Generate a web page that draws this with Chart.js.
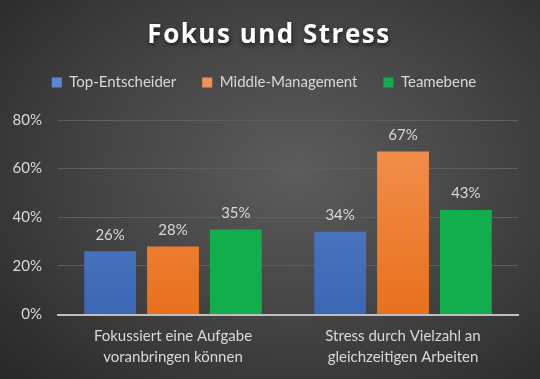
<!DOCTYPE html>
<html>
<head>
<meta charset="utf-8">
<script src="https://cdn.jsdelivr.net/npm/chart.js@4"></script>
<style>
  html, body { margin: 0; padding: 0; }
  body {
    width: 540px; height: 379px; overflow: hidden;
    background: radial-gradient(ellipse 75% 80% at 55% 45%, #5c5c5c 0%, #414141 55%, #282828 100%);
  }
  #wrap { width: 540px; height: 379px; }
</style>
</head>
<body>
<div id="wrap"><canvas id="fokusChart"></canvas></div>
<script>
const categories = [
    ['Fokussiert eine Aufgabe', 'voranbringen können'],
    ['Stress durch Vielzahl an', 'gleichzeitigen Arbeiten'],
];
const topEntscheider = [0.26, 0.34];
const middleManagement = [0.28, 0.67];
const teamebene = [0.35, 0.43];
const yTicks = [0, 0.2, 0.4, 0.6, 0.8];

const textColor = '#d9d9d9';
const font = 'Lato, "Open Sans", sans-serif';

// vertical gradient across the bar, lighter at the top
function barGradient(top, bottom) {
    return function (context) {
        const area = context.chart.chartArea;
        if (!area) return bottom;
        const g = context.chart.ctx.createLinearGradient(0, area.top, 0, area.bottom);
        g.addColorStop(0, top);
        g.addColorStop(1, bottom);
        return g;
    };
}

const valueLabels = {
    id: 'valueLabels',
    afterDatasetsDraw(chart) {
        const ctx = chart.ctx;
        ctx.save();
        ctx.fillStyle = textColor;
        ctx.font = '15px ' + font;
        ctx.textAlign = 'center';
        ctx.textBaseline = 'bottom';
        chart.data.datasets.forEach((ds, i) => {
            chart.getDatasetMeta(i).data.forEach((bar, j) => {
                ctx.fillText(Math.round(ds.data[j] * 100) + '%', bar.x, bar.y - 9);
            });
        });
        ctx.restore();
    },
};

// more room between legend and plot, spaced-out title with a shadow,
// title and legend centred on the whole page rather than the padded box
const layoutTweaks = {
    id: 'layoutTweaks',
    beforeLayout(chart) {
        const lg = chart.legend;
        if (lg && !lg._patched) {
            const fit = lg.fit;
            const draw = lg.draw;
            lg.fit = function () { fit.call(this); this.height += 20; };
            lg.draw = function () {
                this.ctx.save();
                this.ctx.translate(5, 0);
                draw.call(this);
                this.ctx.restore();
            };
            lg._patched = true;
        }
        const tb = chart.titleBlock;
        if (tb && !tb._patched) {
            const draw = tb.draw;
            tb.draw = function () {
                const c = this.ctx;
                c.save();
                c.translate(10, 0);
                c.letterSpacing = '1.5px';
                c.shadowColor = 'rgba(0,0,0,0.6)';
                c.shadowBlur = 4;
                c.shadowOffsetX = 1;
                c.shadowOffsetY = 2;
                draw.call(this);
                c.restore();
            };
            tb._patched = true;
        }
    },
};

const ctx = document.getElementById('fokusChart').getContext('2d');
const myChart = new Chart(ctx, {
    type: 'bar',
    data: {
        labels: categories,
        datasets: [
            {
                label: 'Top-Entscheider',
                data: topEntscheider,
                backgroundColor: barGradient('#5b86d0', '#3a66b3'),
            },
            {
                label: 'Middle-Management',
                data: middleManagement,
                backgroundColor: barGradient('#f39353', '#e8701c'),
            },
            {
                label: 'Teamebene',
                data: teamebene,
                backgroundColor: '#12ad4c',
            },
        ],
    },
    options: {
        responsive: true,
        maintainAspectRatio: false,
        animation: false,
        categoryPercentage: 0.82,
        barPercentage: 0.825,
        layout: { padding: { left: 0, right: 22, top: 0, bottom: 0 } },
        plugins: {
            title: {
                display: true,
                text: 'Fokus und Stress',
                color: '#ffffff',
                font: { family: '"Open Sans", Lato, sans-serif', size: 26, weight: 'bold', lineHeight: 1.0 },
                padding: { top: 23, bottom: 0 },
            },
            legend: {
                labels: {
                    color: textColor,
                    font: { family: font, size: 15 },
                    boxWidth: 10,
                    boxHeight: 10,
                    padding: 26,
                },
            },
            tooltip: { enabled: false },
        },
        scales: {
            x: {
                grid: { display: false, drawTicks: false },
                border: { color: '#bfbfbf', width: 2 },
                ticks: {
                    color: textColor,
                    font: { family: font, size: 15, lineHeight: 1.35 },
                    padding: 12,
                },
            },
            y: {
                min: 0,
                max: 0.8,
                afterFit(scale) { scale.width = 58; },
                afterBuildTicks(scale) { scale.ticks = yTicks.map(v => ({ value: v })); },
                grid: { color: '#5e5e5e', lineWidth: 1, drawTicks: false },
                border: { display: false },
                ticks: {
                    color: textColor,
                    font: { family: font, size: 15 },
                    padding: 16,
                    callback: v => Math.round(v * 100) + '%',
                },
            },
        },
    },
    plugins: [valueLabels, layoutTweaks],
});
</script>
</body>
</html>
